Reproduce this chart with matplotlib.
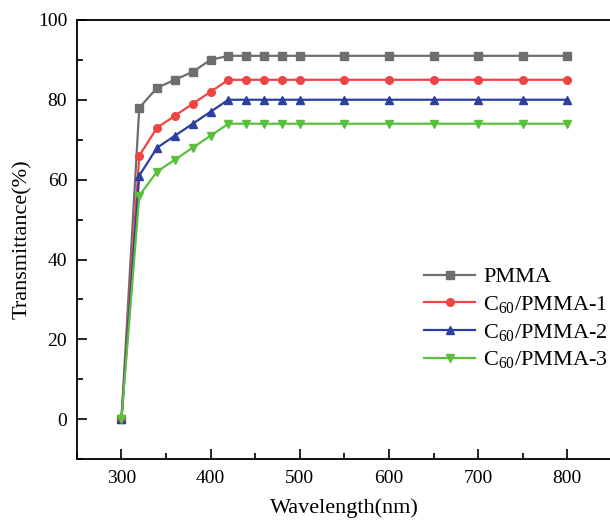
import numpy as np
import matplotlib
matplotlib.use('Agg')
import matplotlib.pyplot as plt
from matplotlib.ticker import MultipleLocator

# Data

wavelength = [300, 320, 340, 360, 380, 400, 420, 440, 460, 480, 500, 550, 600, 650, 700, 750, 800]

pmma = [0, 78, 83, 85, 87, 90, 91, 91, 91, 91, 91, 91, 91, 91, 91, 91, 91]
c60_pmma_1 = [0, 66, 73, 76, 79, 82, 85, 85, 85, 85, 85, 85, 85, 85, 85, 85, 85]
c60_pmma_2 = [0, 61, 68, 71, 74, 77, 80, 80, 80, 80, 80, 80, 80, 80, 80, 80, 80]
c60_pmma_3 = [0, 56, 62, 65, 68, 71, 74, 74, 74, 74, 74, 74, 74, 74, 74, 74, 74]

labels = ['PMMA',
          r'$\mathregular{C_{60}}$/PMMA-1',
          r'$\mathregular{C_{60}}$/PMMA-2',
          r'$\mathregular{C_{60}}$/PMMA-3']

plt.rcParams['font.family'] = ['Liberation Serif', 'DejaVu Serif']
plt.rcParams['mathtext.fontset'] = 'custom'
plt.rcParams['mathtext.rm'] = 'Liberation Serif'

fig = plt.figure(figsize=(6.1, 5.23), dpi=100)
ax = fig.add_axes([0.126, 0.122, 0.877, 0.840])

series = [pmma, c60_pmma_1, c60_pmma_2, c60_pmma_3]
colors = ['#6e6e6e', '#ee4444', '#2b3f9e', '#5abf3c']
markers = ['s', 'o', '^', 'v']

for y, c, m, lab in zip(series, colors, markers, labels):
    ax.plot(wavelength, y, color=c, marker=m, markersize=5.5, linewidth=1.6, label=lab)

ax.set_xlim(250, 850)
ax.set_ylim(-10, 100)
ax.xaxis.set_major_locator(MultipleLocator(100))
ax.xaxis.set_minor_locator(MultipleLocator(50))
ax.yaxis.set_major_locator(MultipleLocator(20))
ax.yaxis.set_minor_locator(MultipleLocator(10))
ax.tick_params(which='both', direction='in', labelsize=14, width=1.2)
ax.tick_params(which='major', length=7)
ax.tick_params(which='minor', length=4)
ax.tick_params(axis='x', pad=8)
ax.tick_params(axis='y', pad=7)
for s in ax.spines.values():
    s.set_linewidth(1.3)

ax.set_xlabel('Wavelength(nm)', fontsize=16, labelpad=8)
ax.set_ylabel('Transmittance(%)', fontsize=16, labelpad=4)

ax.legend(loc='center right', bbox_to_anchor=(1.03, 0.32), frameon=False, fontsize=16,
          handlelength=2.3, handletextpad=0.35, labelspacing=0.3)

fig.savefig('out.png', dpi=100)
